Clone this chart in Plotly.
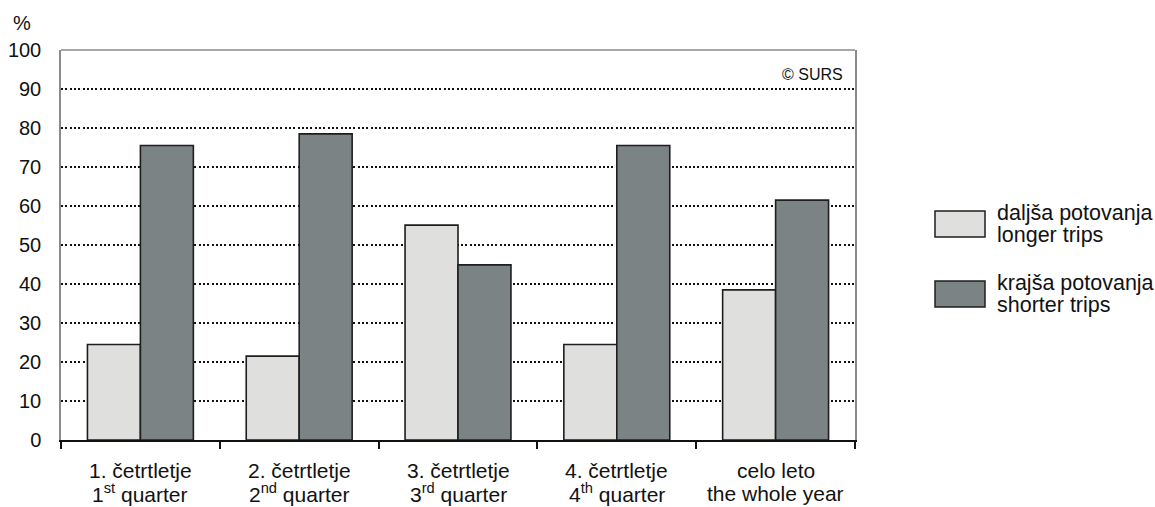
import plotly.graph_objects as go

cat_line1 = ["1. četrtletje", "2. četrtletje", "3. četrtletje", "4. četrtletje", "celo leto"]
cat_line2 = ["1<sup>st</sup> quarter", "2<sup>nd</sup> quarter", "3<sup>rd</sup> quarter",
             "4<sup>th</sup> quarter", "the whole year"]
categories = ["Q1", "Q2", "Q3", "Q4", "Year"]
longer_trips = [24.5, 21.5, 55.1, 24.5, 38.5]
shorter_trips = [75.5, 78.5, 44.9, 75.5, 61.5]
series_line1 = ["daljša potovanja", "krajša potovanja"]
series_line2 = ["longer trips", "shorter trips"]
y_ticks = [0, 10, 20, 30, 40, 50, 60, 70, 80, 90, 100]

FONT = "Liberation Sans, Arial, sans-serif"
LIGHT = "#dfdfdd"
DARK = "#7b8385"
EDGE = "#1e1e1e"
FS = 20

fig = go.Figure()
fig.add_trace(go.Bar(x=categories, y=longer_trips, name=series_line1[0],
                     marker=dict(color=LIGHT, line=dict(color=EDGE, width=1.6)),
                     showlegend=False))
fig.add_trace(go.Bar(x=categories, y=shorter_trips, name=series_line1[1],
                     marker=dict(color=DARK, line=dict(color=EDGE, width=1.6)),
                     showlegend=False))

fig.update_layout(
    width=1155, height=507,
    margin=dict(l=61, r=300, t=50, b=67, autoexpand=False),
    paper_bgcolor="white", plot_bgcolor="white",
    barmode="group", bargap=0.333, bargroupgap=0,
    font=dict(family=FONT, size=FS, color="#111"),
)
fig.update_xaxes(
    showline=True, linecolor="#111", linewidth=1.5, automargin=False,
    ticks="outside", tickson="boundaries", ticklen=7, tickcolor="#111", tickwidth=1.5,
    showgrid=False, showticklabels=False,
)
fig.update_yaxes(
    range=[0, 100], tickvals=y_ticks, ticks="", showline=True, linecolor="#8a8a8a",
    linewidth=1.5, mirror=True, showgrid=True, gridcolor="#111", griddash="2px,2.3px",
    gridwidth=1.8, zeroline=False, tickfont=dict(size=FS), ticklabelstandoff=14,
    automargin=False,
)
fig.add_shape(type="line", xref="paper", yref="paper", x0=0, x1=1, y0=1, y1=1,
              line=dict(color="#8a8a8a", width=1.5))

for c, l1, l2 in zip(categories, cat_line1, cat_line2):
    fig.add_annotation(text=l1, x=c, xref="x", y=0, yref="paper", yanchor="middle",
                       yshift=-30, showarrow=False, font=dict(size=21))
    fig.add_annotation(text=l2, x=c, xref="x", y=0, yref="paper", yanchor="middle",
                       yshift=-53, showarrow=False, font=dict(size=21))

fig.add_annotation(text="%", xref="paper", yref="paper", x=-0.063, y=1.035,
                   xanchor="left", yanchor="bottom", showarrow=False, font=dict(size=FS))
fig.add_annotation(text="© SURS", xref="paper", yref="paper", x=0.988, y=0.965,
                   xanchor="right", yanchor="top", showarrow=False, font=dict(size=16))

# custom legend (pixel positions relative to plot area: left 61, top 50, 794x390)
colors = [LIGHT, DARK]
for i in range(2):
    yc = 224 + i * 70
    fig.add_shape(type="rect", xref="paper", yref="paper",
                  x0=(935 - 61) / 794, x1=(985 - 61) / 794,
                  y0=1 - (yc - 50 + 13) / 390, y1=1 - (yc - 50 - 13) / 390,
                  fillcolor=colors[i], line=dict(color=EDGE, width=1.5))
    for j, txt in enumerate([series_line1[i], series_line2[i]]):
        fig.add_annotation(text=txt, xref="paper", yref="paper", x=(995 - 61) / 794,
                           y=1 - (yc - 50) / 390, yshift=11 - 22 * j,
                           xanchor="left", yanchor="middle",
                           showarrow=False, font=dict(size=21.5))

fig.write_html(
    "out.html",
    config={"displayModeBar": False},
    post_script="document.body.style.margin='0';document.body.style.overflow='hidden';",
)
